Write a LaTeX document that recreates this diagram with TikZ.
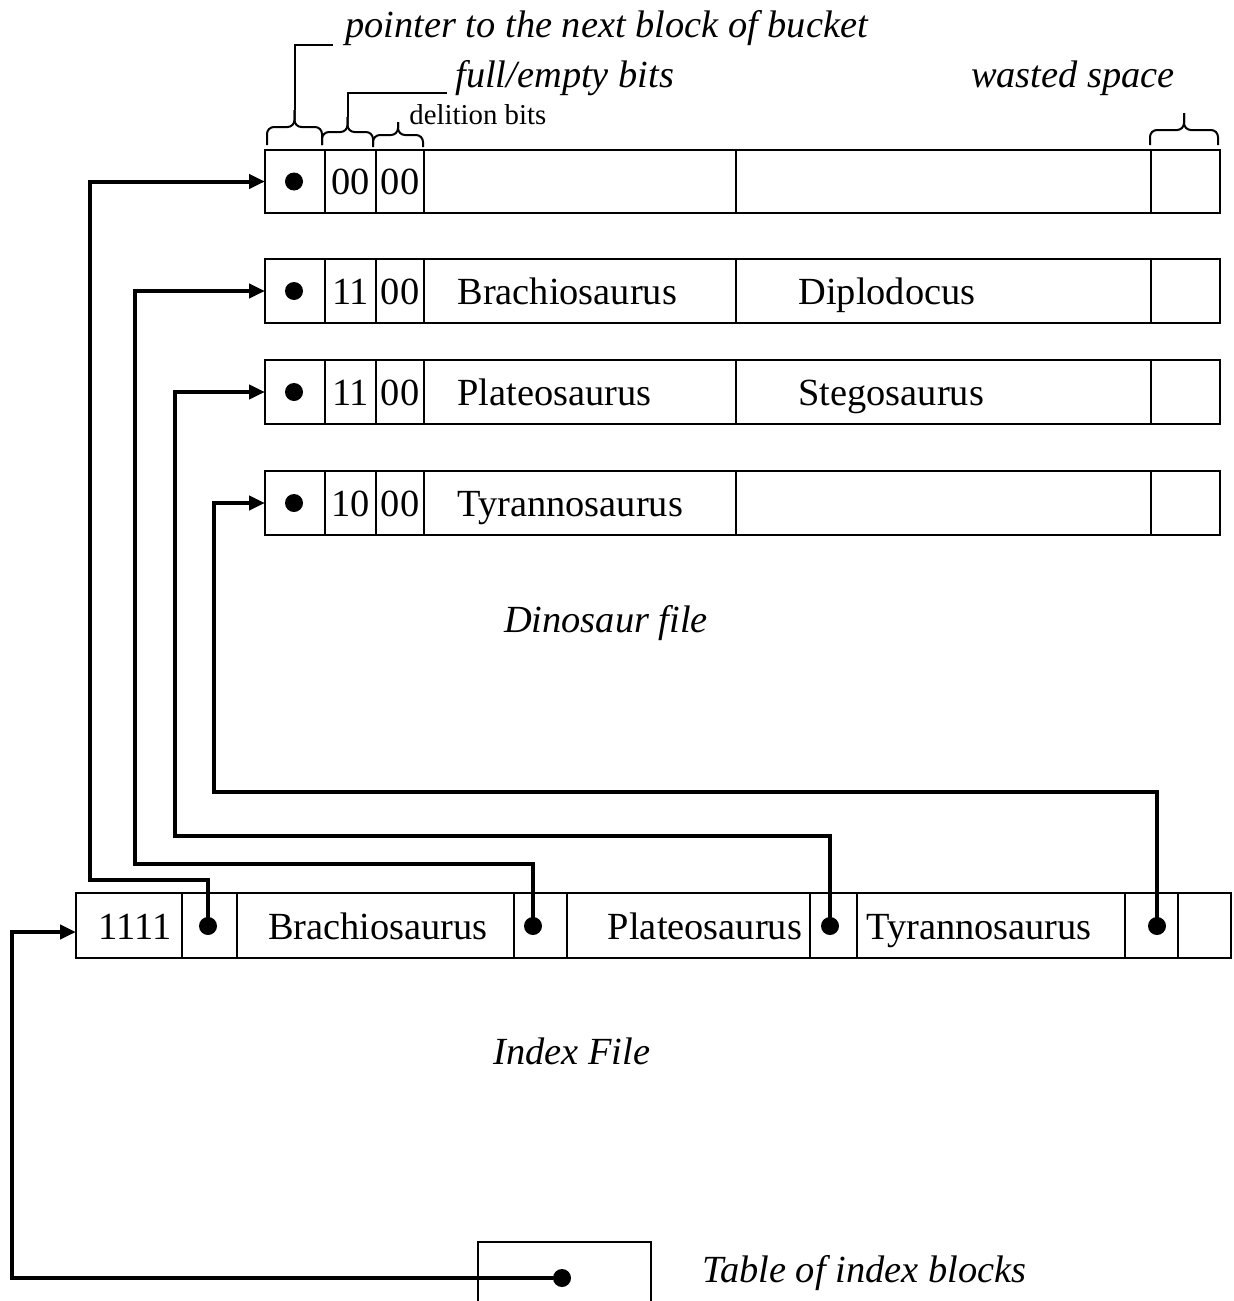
\documentclass[tikz,border=0pt]{standalone}
\usepackage{fontspec}
\setmainfont{Liberation Serif}
\usetikzlibrary{arrows.meta,calc}
\newcommand\drawbracket[5]{%
  \draw[line width=1pt,rounded corners=3.5pt] (#1,#3) -- (#1,#4) -- ({(#1+#2)/2},#4) -- ({(#1+#2)/2},#5);
  \draw[line width=1pt,rounded corners=3.5pt] ({(#1+#2)/2},#5) -- ({(#1+#2)/2},#4) -- (#2,#4) -- (#2,#3);
}
\begin{document}
\begin{tikzpicture}[x=0.5pt,y=-0.5pt,
  box/.style={draw,line width=1pt},
  conn/.style={line width=2pt,-{Triangle[length=8pt,width=7pt]}},
  dotc/.style={circle,fill,inner sep=0pt,minimum size=9pt},
  txt/.style={inner sep=0pt,font=\fontsize{19.2}{23}\selectfont},
  itxt/.style={inner sep=0pt,font=\fontsize{19.2}{23}\selectfont\itshape},
  stxt/.style={inner sep=0pt,font=\fontsize{14.4}{17}\selectfont}
]
\useasboundingbox (0,0) rectangle (1234,1301);

% Dinosaur file rows
\foreach \t/\b/\n in {150/213/1,259/323/2,360/424/3,471/535/4} {
  \draw[box] (265,\t) rectangle (1220,\b);
  \foreach \x in {325,376,424,736,1151} \draw[box] (\x,\t) -- (\x,\b);
  \node[dotc] (d\n) at (294,{(\t+\b)/2}) {};
  \coordinate (rin\n) at (265,{(\t+\b)/2});
}
% row texts (baseline = centre + 13)
\node[txt,anchor=base] (r1a) at (350.5,194.5) {00};
\node[txt,anchor=base] (r1b) at (400,194.5) {00};
\node[txt,anchor=base] (r2a) at (350.5,304) {11};
\node[txt,anchor=base] (r2b) at (400,304) {00};
\node[txt,anchor=base west] (r2c) at (457,304) {Brachiosaurus};
\node[txt,anchor=base west] (r2d) at (798,304) {Diplodocus};
\node[txt,anchor=base] (r3a) at (350.5,405) {11};
\node[txt,anchor=base] (r3b) at (400,405) {00};
\node[txt,anchor=base west] (r3c) at (457,405) {Plateosaurus};
\node[txt,anchor=base west] (r3d) at (798,405) {Stegosaurus};
\node[txt,anchor=base] (r4a) at (350.5,516) {10};
\node[txt,anchor=base] (r4b) at (400,516) {00};
\node[txt,anchor=base west] (r4c) at (457,516) {Tyrannosaurus};

% braces and labels
\drawbracket{267}{322}{145}{127}{110}
\coordinate (b1tip) at (294.5,110);
\drawbracket{322}{373}{145}{132}{117}
\coordinate (b2tip) at (347.5,117);
\drawbracket{373}{423}{147}{135}{122}
\drawbracket{1150}{1218}{145}{130}{113}

\node[itxt,anchor=base west] (lbl1) at (345,37) {pointer to the next block of bucket};
\node[itxt,anchor=base west] (lbl2) at (455,87) {full/empty bits};
\node[stxt,anchor=base west] (lbl3) at (409,124) {delition bits};
\node[itxt,anchor=base] (lbl4) at (1073,87) {wasted space};
\draw[line width=1pt] (b1tip) |- ($(lbl1.base west)+(-12,8)$);
\draw[line width=1pt] (b2tip) |- ($(lbl2.base west)+(-8,6)$);

\node[itxt,anchor=base] (dfile) at (606,632) {Dinosaur file};

% Index file
\draw[box] (76,893) rectangle (1231,958);
\foreach \x in {182,237,514,567,810,857,1125,1178} \draw[box] (\x,893) -- (\x,958);
\coordinate (ixin) at (76,932);
\node[txt,anchor=base] (i0) at (135,939) {1111};
\node[txt,anchor=base] (i1) at (378,939) {Brachiosaurus};
\node[txt,anchor=base] (i2) at (705,939) {Plateosaurus};
\node[txt,anchor=base] (i3) at (979,939) {Tyrannosaurus};
\node[dotc] (ip1) at (208,926) {};
\node[dotc] (ip2) at (533,926) {};
\node[dotc] (ip3) at (830,926) {};
\node[dotc] (ip4) at (1157,926) {};
\node[itxt,anchor=base] (ifile) at (572,1064) {Index File};

% table of index blocks
\draw[box] (478,1310) -- (478,1242) -- (651,1242) -- (651,1310);
\node[dotc] (tdot) at (562,1278) {};
\node[itxt,anchor=base west] (tlbl) at (702,1282) {Table of index blocks};

% connectors
\draw[conn] (ip1.center) -- ++(0,-46) -| ($(rin1)+(-175,0)$) -- (rin1);
\draw[conn] (ip2.center) -- ++(0,-62) -| ($(rin2)+(-130,0)$) -- (rin2);
\draw[conn] (ip3.center) -- ++(0,-90) -| ($(rin3)+(-90,0)$) -- (rin3);
\draw[conn] (ip4.center) -- ++(0,-134) -| ($(rin4)+(-51,0)$) -- (rin4);
\draw[conn] (tdot.center) -| ($(ixin)+(-64,0)$) -- (ixin);
\end{tikzpicture}
\end{document}
